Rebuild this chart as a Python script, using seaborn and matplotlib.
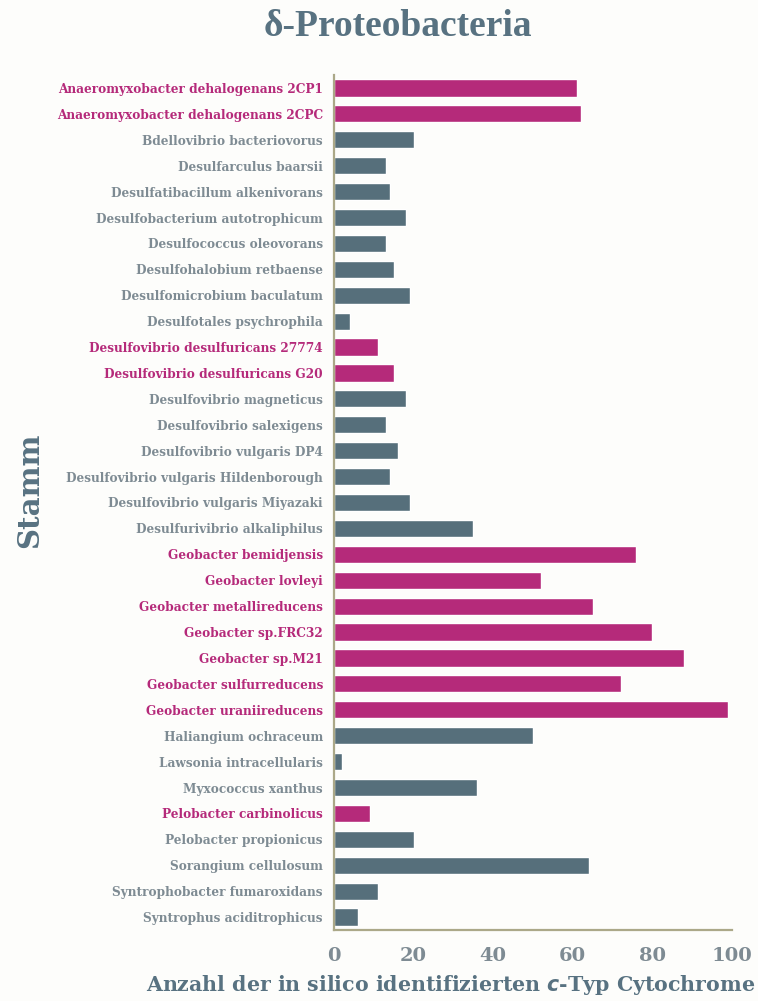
import pandas as pd
import matplotlib
matplotlib.use('Agg')
import matplotlib.pyplot as plt
import seaborn as sns

# Daten
staemme = [
    'Anaeromyxobacter dehalogenans 2CP1', 'Anaeromyxobacter dehalogenans 2CPC',
    'Bdellovibrio bacteriovorus', 'Desulfarculus baarsii',
    'Desulfatibacillum alkenivorans', 'Desulfobacterium autotrophicum',
    'Desulfococcus oleovorans', 'Desulfohalobium retbaense',
    'Desulfomicrobium baculatum', 'Desulfotales psychrophila',
    'Desulfovibrio desulfuricans 27774', 'Desulfovibrio desulfuricans G20',
    'Desulfovibrio magneticus', 'Desulfovibrio salexigens',
    'Desulfovibrio vulgaris DP4', 'Desulfovibrio vulgaris Hildenborough',
    'Desulfovibrio vulgaris Miyazaki', 'Desulfurivibrio alkaliphilus',
    'Geobacter bemidjensis', 'Geobacter lovleyi', 'Geobacter metallireducens',
    'Geobacter sp.FRC32', 'Geobacter sp.M21', 'Geobacter sulfurreducens',
    'Geobacter uraniireducens', 'Haliangium ochraceum',
    'Lawsonia intracellularis', 'Myxococcus xanthus', 'Pelobacter carbinolicus',
    'Pelobacter propionicus', 'Sorangium cellulosum',
    'Syntrophobacter fumaroxidans', 'Syntrophus aciditrophicus',
]
anzahl = [61, 62, 20, 13, 14, 18, 13, 15, 19, 4, 11, 15, 18, 13, 16, 14, 19, 35,
          76, 52, 65, 80, 88, 72, 99, 50, 2, 36, 9, 20, 64, 11, 6]
hervorgehoben = [1, 1, 0, 0, 0, 0, 0, 0, 0, 0, 1, 1, 0, 0, 0, 0, 0, 0,
                 1, 1, 1, 1, 1, 1, 1, 0, 0, 0, 1, 0, 0, 0, 0]

df = pd.DataFrame({'Stamm': staemme, 'Anzahl': anzahl,
                   'Gruppe': ['ja' if h else 'nein' for h in hervorgehoben]})

magenta = '#B52A7A'
grau = '#566F7B'
text_grau = '#7E8B93'
titel_farbe = '#587281'
achse = '#ABA888'

sns.set_style('white')
plt.rcParams['font.family'] = ['DejaVu Serif']
plt.rcParams['font.weight'] = 'bold'

fig = plt.figure(figsize=(7.58, 10.01), dpi=100, facecolor='#FDFDFB')
ax = fig.add_axes([334/758, 1 - 930/1001, 398/758, 855/1001])
ax.set_facecolor('#FDFDFB')

sns.barplot(data=df, y='Stamm', x='Anzahl', hue='Gruppe',
            palette={'ja': magenta, 'nein': grau}, dodge=False,
            legend=False, width=0.66, saturation=1, ax=ax)

ax.set_xlim(0, 100)
ax.set_ylim(len(staemme) - 0.5, -0.5)
ax.set_xticks([0, 20, 40, 60, 80, 100])
ax.set_xlabel('')
ax.set_ylabel('')

for s in ['top', 'right']:
    ax.spines[s].set_visible(False)
for s in ['left', 'bottom']:
    ax.spines[s].set_color(achse)
    ax.spines[s].set_linewidth(1.6)

ax.tick_params(axis='y', direction='out', length=5, width=1.6, color=achse,
               labelsize=8.7, pad=3)
ax.tick_params(axis='x', direction='in', length=6, width=1.6, color=achse,
               labelsize=14, labelcolor=text_grau, pad=12)

for lbl, h in zip(ax.get_yticklabels(), hervorgehoben):
    lbl.set_color(magenta if h else text_grau)
    lbl.set_fontweight('bold')
for lbl in ax.get_xticklabels():
    lbl.set_fontweight('bold')

fig.text(398/758, 1 - 26/1001, 'δ-Proteobacteria', ha='center', va='center',
         fontsize=27, fontweight='bold', color=titel_farbe,
         family='Liberation Serif')
fig.text(30/758, 1 - 490/1001, 'Stamm', ha='center', va='center', rotation=90,
         fontsize=21, fontweight='bold', color=titel_farbe)
fig.text(451/758, 1 - 985/1001,
         'Anzahl der in silico identifizierten $\\mathbf{\\it{c}}$-Typ Cytochrome',
         ha='center', va='center', fontsize=14.8, fontweight='bold',
         color=titel_farbe)

fig.savefig('out.png', dpi=100, facecolor=fig.get_facecolor())
